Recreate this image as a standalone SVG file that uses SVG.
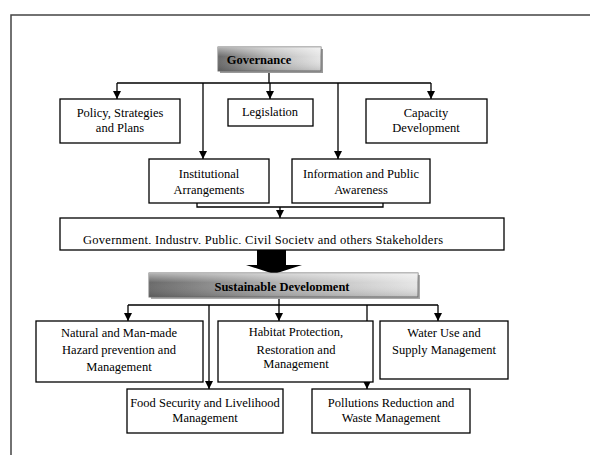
<svg xmlns="http://www.w3.org/2000/svg" width="590" height="455" viewBox="0 0 590 455">
<style>
.box{fill:#fff;stroke:#000;stroke-width:1.3}
.t{font-family:"Liberation Serif","Times New Roman",serif;font-size:12.5px;fill:#000;text-anchor:middle}
.b{font-weight:bold;font-size:12.5px}
.ln{fill:none;stroke:#000;stroke-width:1.3}
</style>
<defs>
<marker id="ah" viewBox="0 0 10 10" refX="10" refY="5" markerWidth="8" markerHeight="8" markerUnits="userSpaceOnUse" orient="auto">
<path d="M0,0 L10,5 L0,10 z" fill="#000"/>
</marker>
<linearGradient id="g" x1="0" y1="0" x2="1" y2="0">
<stop offset="0" stop-color="#6a6a6a"/>
<stop offset="0.5" stop-color="#b5b5b5"/>
<stop offset="1" stop-color="#e6e6e6"/>
</linearGradient>
<linearGradient id="gv" x1="0" y1="0" x2="0" y2="1">
<stop offset="0" stop-color="#fff" stop-opacity="0.5"/>
<stop offset="0.4" stop-color="#fff" stop-opacity="0"/>
<stop offset="1" stop-color="#000" stop-opacity="0.15"/>
</linearGradient>
<clipPath id="c1"><rect x="60" y="218" width="444" height="26"/></clipPath>
<clipPath id="c2"><rect x="149" y="273" width="269" height="18"/></clipPath>
</defs>
<rect x="11" y="15" width="620" height="500" fill="none" stroke="#444" stroke-width="1.5"/>

<g id="connectors">
<path class="ln" d="M269,71 V83 M117,83 H431"/>
<path class="ln" d="M117,83 V99" marker-end="url(#ah)"/>
<path class="ln" d="M203,83 V159" marker-end="url(#ah)"/>
<path class="ln" d="M270,83 V99" marker-end="url(#ah)"/>
<path class="ln" d="M338,83 V159" marker-end="url(#ah)"/>
<path class="ln" d="M431,83 V99" marker-end="url(#ah)"/>
<path class="ln" d="M197,203 V207 H383 V203"/>
<path class="ln" d="M280,207 V218" marker-end="url(#ah)"/>
<path d="M257,250 H286 V265 H302 L274,274 L246,265 H257 Z" fill="#000"/>
<path class="ln" d="M279,297 V305 M128,305 H438"/>
<path class="ln" d="M128,305 V321" marker-end="url(#ah)"/>
<path class="ln" d="M209,305 V389" marker-end="url(#ah)"/>
<path class="ln" d="M279,305 V321" marker-end="url(#ah)"/>
<path class="ln" d="M367,305 V389" marker-end="url(#ah)"/>
<path class="ln" d="M438,305 V321" marker-end="url(#ah)"/>
</g>

<g id="governance">
<rect x="220" y="49" width="103" height="24" fill="#999"/>
<rect x="218" y="47" width="103" height="24" fill="url(#g)" stroke="#777" stroke-width="1"/>
<rect x="218" y="47" width="103" height="24" fill="url(#gv)"/>
<text class="t b" x="259" y="64">Governance</text>
</g>

<g id="policy">
<rect class="box" x="60" y="99" width="120" height="44"/>
<text class="t" x="120" y="117">Policy, Strategies</text>
<text class="t" x="120" y="132">and Plans</text>
</g>
<g id="legislation">
<rect class="box" x="228" y="99" width="85" height="27"/>
<text class="t" x="270" y="116">Legislation</text>
</g>
<g id="capacity">
<rect class="box" x="366" y="99" width="121" height="44"/>
<text class="t" x="426" y="117">Capacity</text>
<text class="t" x="426" y="132">Development</text>
</g>
<g id="institutional">
<rect class="box" x="149" y="159" width="120" height="44"/>
<text class="t" x="209" y="178">Institutional</text>
<text class="t" x="209" y="194">Arrangements</text>
</g>
<g id="information">
<rect class="box" x="292" y="159" width="138" height="44"/>
<text class="t" x="361" y="178">Information and Public</text>
<text class="t" x="361" y="194">Awareness</text>
</g>
<g id="stakeholders">
<rect class="box" x="60" y="218" width="444" height="32"/>
<text class="t" x="263" y="244" textLength="360" lengthAdjust="spacing" clip-path="url(#c1)">Government, Industry, Public, Civil Society and others Stakeholders</text>
</g>
<g id="sustainable">
<rect x="151" y="275" width="269" height="24" fill="#aaa"/>
<rect x="149" y="273" width="269" height="24" fill="url(#g)" stroke="#777" stroke-width="1"/>
<rect x="149" y="273" width="269" height="24" fill="url(#gv)"/>
<text class="t b" x="282" y="291" clip-path="url(#c2)">Sustainable Development</text>
</g>
<g id="natural">
<rect class="box" x="36" y="321" width="167" height="61"/>
<text class="t" x="119" y="337">Natural and Man-made</text>
<text class="t" x="119" y="354">Hazard prevention and</text>
<text class="t" x="119" y="371">Management</text>
</g>
<g id="habitat">
<rect class="box" x="218" y="321" width="155" height="61"/>
<text class="t" x="296" y="336">Habitat Protection,</text>
<text class="t" x="296" y="354">Restoration and</text>
<text class="t" x="296" y="368">Management</text>
</g>
<g id="water">
<rect class="box" x="380" y="321" width="128" height="58"/>
<text class="t" x="444" y="337">Water Use and</text>
<text class="t" x="444" y="354">Supply Management</text>
</g>
<g id="food">
<rect class="box" x="127" y="389" width="156" height="44"/>
<text class="t" x="205" y="407">Food Security and Livelihood</text>
<text class="t" x="205" y="422">Management</text>
</g>
<g id="pollution">
<rect class="box" x="312" y="389" width="158" height="44"/>
<text class="t" x="391" y="407">Pollutions Reduction and</text>
<text class="t" x="391" y="422">Waste Management</text>
</g>
</svg>
